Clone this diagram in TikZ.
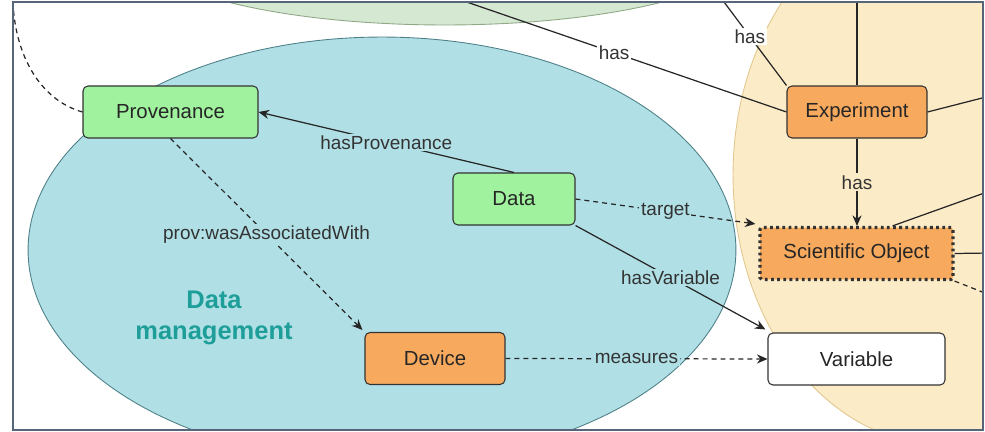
\documentclass[tikz,border=0pt]{standalone}
\usepackage{fontspec}
\setmainfont{Liberation Sans}
\usepackage{xcolor}
\usetikzlibrary{arrows.meta,calc}

\definecolor{dmblue}{HTML}{B0E0E6}
\definecolor{dmline}{HTML}{4E8088}
\definecolor{expfill}{HTML}{FCEBC7}
\definecolor{expline}{HTML}{E2C88E}
\definecolor{topfill}{HTML}{D5E8D2}
\definecolor{topline}{HTML}{8FA886}
\definecolor{provgreen}{HTML}{A0F29E}
\definecolor{objorange}{HTML}{F7AA5E}
\definecolor{dmtext}{HTML}{1E9E98}
\definecolor{frame}{HTML}{56657A}

\begin{document}
\begin{tikzpicture}[x=0.02cm, y=-0.02cm,
    >={Stealth[length=6pt,width=5.2pt]},
    font=\fontsize{11.6}{14}\selectfont,
    box/.style={draw=black!80, line width=0.6pt, rounded corners=2.8pt,
                minimum height=1.04cm, inner sep=0pt, text=black!85},
    greenbox/.style={box, fill=provgreen},
    orangebox/.style={box, fill=objorange},
    rel/.style={draw=black!85, line width=0.7pt},
    reldash/.style={rel, dash pattern=on 2.8pt off 2.3pt},
    lbl/.style={font=\fontsize{10.8}{13}\selectfont, text=black!80,
                inner sep=1pt}]

  \useasboundingbox (0,0) rectangle (985,432);

  %--- Background regions ---------------------------------------------------
  \begin{scope}
    \clip (13,2) rectangle (983,430);
    \filldraw[fill=topfill, draw=topline, line width=0.5pt]
         (445,-55) ellipse [x radius=6.2cm, y radius=1.6cm];
    \filldraw[fill=expfill, draw=expline, line width=0.5pt]
         (944,175) ellipse [x radius=4.22cm, y radius=5.4cm];
    \filldraw[fill=dmblue, draw=dmline, line width=0.5pt]
         (382,250) ellipse [x radius=7.08cm, y radius=4.26cm];
  \end{scope}

  \node[font=\bfseries\fontsize{14.5}{18}\selectfont, text=dmtext, align=center]
       (dmlabel) at (214,318) {Data\\management};

  %--- Boxes ----------------------------------------------------------------
  \node[greenbox,  minimum width=3.5cm]  (prov)   at (170.5,112) {Provenance};
  \node[greenbox,  minimum width=2.44cm] (data)   at (514,199)   {Data};
  \node[orangebox, minimum width=2.8cm]  (exp)    at (857,112)   {Experiment};
  \node[orangebox, minimum width=3.86cm, rounded corners=1pt, line width=1.8pt,
        draw=black!80, dash pattern=on 1.6pt off 1.9pt]
                                         (sciobj) at (856.5,253.5) {Scientific Object};
  \node[orangebox, minimum width=2.8cm]  (device) at (435,358.5) {Device};
  \node[box, fill=white, minimum width=3.54cm] (var) at (856.5,359) {Variable};

  %--- Loose ends (outside the view) ----------------------------------------
  \coordinate (topA) at (455,-2);
  \coordinate (topB) at (721,-2);
  \coordinate (topC) at (857,-2);
  \coordinate (rgtA) at (990,96);
  \coordinate (rgtB) at (990,191);
  \coordinate (rgtC) at (990,253);
  \coordinate (rgtD) at (990,295);
  \coordinate (lftA) at (13,2);

  \begin{scope}
    \clip (13,2) rectangle (983,430);
    \draw[rel] (topA) -- (exp.west)
          node[lbl, pos=0.48, fill=white] {has};
    \draw[rel] (topB) -- (exp.north west)
          node[lbl, pos=0.44, fill=white] {has};
    \draw[rel] (topC) -- (exp.north);
    \draw[rel] (exp.east) -- (rgtA);
    \draw[rel] ($(sciobj.north)+(36,0)$) -- (rgtB);
    \draw[rel] (sciobj.east) -- (rgtC);
    \draw[reldash] (sciobj.south east) -- (rgtD);
    \draw[reldash] (prov.west) .. controls (40,100) and (15,55) .. (lftA);
  \end{scope}

  %--- Relations ------------------------------------------------------------
  \draw[rel, ->] (data.north) -- (prov.east)
        node[lbl, pos=0.5, fill=dmblue] {hasProvenance};
  \draw[reldash, ->] (prov.south) -- ($(device.north west)+(-2,-2)$)
        node[lbl, pos=0.5, fill=dmblue] {prov:wasAssociatedWith};
  \draw[reldash, ->] (data.east) -- ($(sciobj.north west)+(-3,-2)$)
        node[lbl, pos=0.5, fill=dmblue] {target};
  \draw[rel, ->] (data.south east) -- ($(var.north west)+(-2,-3)$)
        node[lbl, pos=0.5, fill=dmblue] {hasVariable};
  \draw[reldash, ->] (device.east) -- (var.west)
        node[lbl, pos=0.5, fill=dmblue] {measures};
  \draw[rel, ->] (exp.south) -- (exp.south |- sciobj.north)
        node[lbl, pos=0.5, fill=expfill] {has};

  %--- Frame ----------------------------------------------------------------
  \draw[frame, line width=0.8pt] (13,2) rectangle (983,430);

\end{tikzpicture}
\end{document}
